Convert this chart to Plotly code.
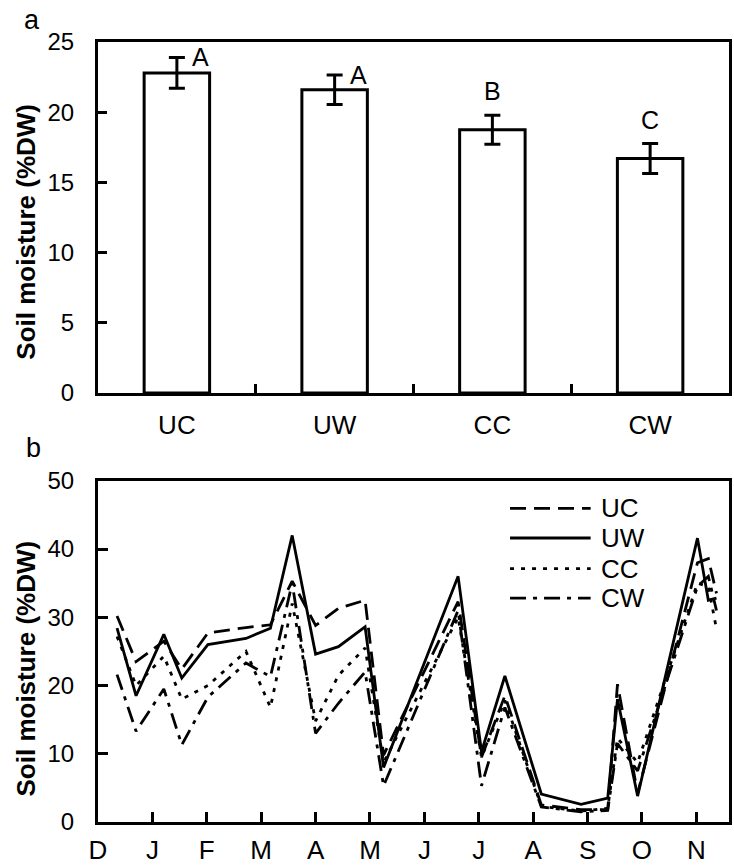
import plotly.graph_objects as go

# ---------------- data ----------------
treatments = ["UC", "UW", "CC", "CW"]
mean_moisture = [22.8, 21.6, 18.75, 16.7]
se_moisture = [1.1, 1.05, 1.03, 1.07]
sig_letters = ["A", "A", "B", "C"]

month_labels = ["D", "J", "F", "M", "A", "M", "J", "J", "A", "S", "O", "N"]
# sampling dates expressed as months since 1 December
sample_t = [0.35, 0.70, 1.21, 1.54, 2.02, 2.72, 3.17, 3.57, 4.00, 4.42, 4.91, 5.25,
            6.62, 7.05, 7.48, 8.15, 8.88, 9.37, 9.55, 9.92, 11.02, 11.22, 11.37]
uc_series = [30.2, 23.5, 26.5, 22.4, 27.7, 28.5, 28.9, 35.3, 28.8, 31.3, 32.5, 9.8,
             32.3, 9.5, 18.5, 2.5, 1.8, 1.8, 20.2, 4.2, 38.0, 38.6, 33.5]
uw_series = [28.4, 18.5, 27.5, 21.1, 26.0, 26.9, 28.4, 42.0, 24.6, 25.7, 28.6, 8.0,
             36.0, 10.3, 21.4, 4.1, 2.6, 3.5, 18.0, 3.8, 41.6, 32.5, 32.8]
cc_series = [27.2, 20.0, 24.3, 18.0, 20.0, 25.0, 16.8, 32.0, 14.8, 21.5, 25.5, 8.7,
             30.0, 9.5, 17.8, 2.3, 1.6, 2.0, 12.3, 8.7, 35.0, 34.5, 28.3]
cw_series = [21.6, 13.3, 19.5, 11.3, 18.3, 23.3, 21.3, 35.0, 13.0, 17.4, 22.0, 5.3,
             31.0, 5.3, 16.8, 2.2, 1.5, 1.7, 11.5, 7.5, 34.5, 36.0, 31.0]

series_names = ["UC", "UW", "CC", "CW"]
series_values = [uc_series, uw_series, cc_series, cw_series]

# ---------------- styling ----------------
FONT = "Liberation Sans, Arial, Helvetica, sans-serif"
dashes = {"UC": "16px,8px", "UW": "solid", "CC": "4px,7px", "CW": "16px,7px,4px,7px"}
W, H = 734, 867
PL, PR, PT, PB = 98, 732, 42, 833


def xp(px):
    return (px - PL) / (PR - PL)


def yp(py):
    return (PB - py) / (PB - PT)


fig = go.Figure()

# panel a bars
fig.add_trace(go.Bar(
    x=treatments, y=mean_moisture, width=0.415,
    marker=dict(color="white", line=dict(color="black", width=3)),
    error_y=dict(type="data", array=se_moisture, thickness=3, width=8, color="black"),
    xaxis="x", yaxis="y", showlegend=False,
))

# panel b lines
for name, vals in zip(series_names, series_values):
    fig.add_trace(go.Scatter(
        x=sample_t, y=vals, mode="lines", name=name,
        line=dict(color="black", width=2.8, dash=dashes[name]),
        xaxis="x2", yaxis="y2", showlegend=False,
    ))

common_axis = dict(showline=True, linecolor="black", linewidth=3, mirror=True,
                   ticks="inside", tickwidth=3, tickcolor="black", showgrid=False,
                   zeroline=False)
yfont = dict(family=FONT, size=24, color="black")
xfont = dict(family=FONT, size=26, color="black")

annotations = []
# significance letters
for i, (m, e, L) in enumerate(zip(mean_moisture, se_moisture, sig_letters)):
    if L == "A":
        annotations.append(dict(x=i + 0.085, y=m + e, xref="x", yref="y", text=L,
                                showarrow=False, xanchor="left", yanchor="middle",
                                font=dict(family=FONT, size=25, color="black")))
    else:
        annotations.append(dict(x=i, y=m + e + 1.7, xref="x", yref="y", text=L,
                                showarrow=False, xanchor="center", yanchor="middle",
                                font=dict(family=FONT, size=25, color="black")))

# panel labels
annotations.append(dict(x=xp(32), y=yp(20), xref="paper", yref="paper", text="a",
                        showarrow=False, xanchor="center", yanchor="middle",
                        font=dict(family=FONT, size=27, color="black")))
annotations.append(dict(x=xp(33), y=yp(454), xref="paper", yref="paper", text="b",
                        showarrow=False, xanchor="center", yanchor="middle",
                        font=dict(family=FONT, size=27, color="black")))
# y titles
for cy in (234, 677):
    annotations.append(dict(x=xp(26), y=yp(cy), xref="paper", yref="paper",
                            text="<b>Soil moisture (%DW)</b>", textangle=-90,
                            showarrow=False, xanchor="center", yanchor="middle",
                            font=dict(family=FONT, size=26, color="black")))

# custom legend
shapes = []
leg_rows = [515, 545, 576, 606]
for name, ry in zip(series_names, leg_rows):
    shapes.append(dict(type="line", xref="paper", yref="paper",
                       x0=xp(512), x1=xp(593), y0=yp(ry), y1=yp(ry),
                       line=dict(color="black", width=2.8, dash=dashes[name])))
    annotations.append(dict(x=xp(601), y=yp(ry), xref="paper", yref="paper", text=name,
                            showarrow=False, xanchor="left", yanchor="middle",
                            font=dict(family=FONT, size=26, color="black")))

fig.update_layout(
    width=W, height=H,
    margin=dict(l=PL, r=W - PR, t=PT, b=H - PB, pad=0),
    paper_bgcolor="white", plot_bgcolor="white",
    showlegend=False,
    xaxis=dict(anchor="y", domain=[0, 1], type="category", tickson="boundaries",
               ticklen=9, ticklabelstandoff=7, tickfont=xfont, **common_axis),
    yaxis=dict(anchor="x", domain=[yp(398), 1], range=[0, 25], dtick=5, ticklen=9,
               ticklabelstandoff=16, tickfont=yfont, **common_axis),
    xaxis2=dict(anchor="y2", domain=[0, 1], range=[0, 11.6], tickvals=list(range(12)),
                ticktext=month_labels, ticklen=10, ticklabelstandoff=3, tickfont=xfont,
                **common_axis),
    yaxis2=dict(anchor="x2", domain=[0, yp(487)], range=[0, 50], dtick=10, ticklen=10,
                ticklabelstandoff=16, tickfont=yfont, **common_axis),
    annotations=annotations,
    shapes=shapes,
)

fig.write_html("out.html")
